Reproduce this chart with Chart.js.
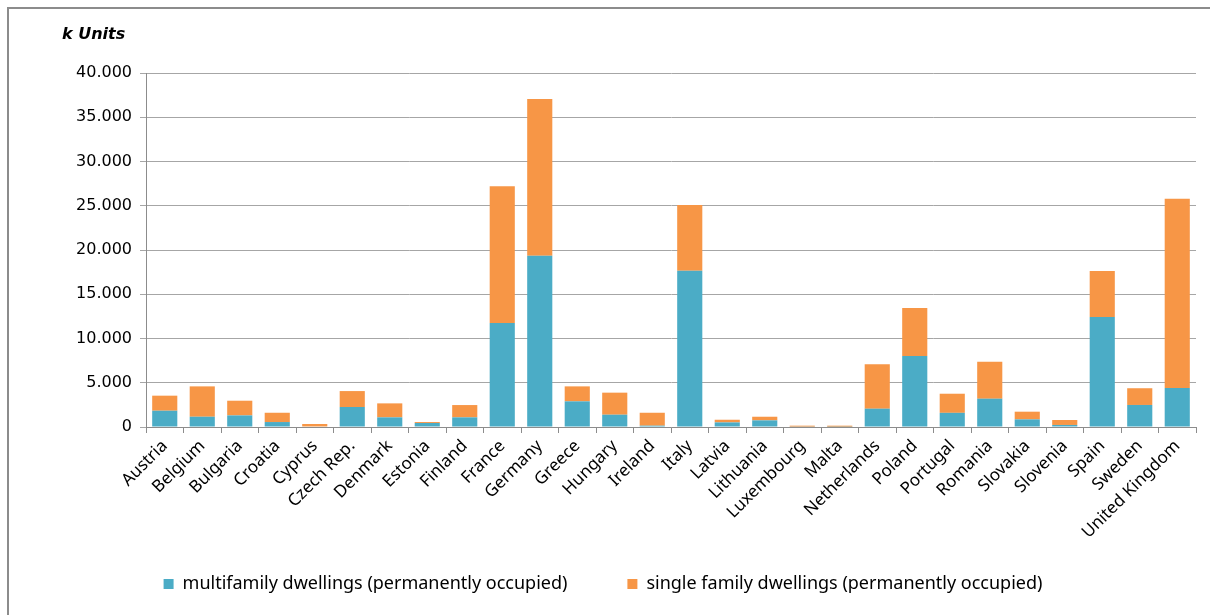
<!DOCTYPE html>
<html>
<head>
<meta charset="utf-8">
<script src="https://cdn.jsdelivr.net/npm/chart.js@4.4.1/dist/chart.umd.min.js"></script>
<style>
  html, body { margin: 0; padding: 0; background: #fff; overflow: hidden; }
  #wrap { width: 1210px; height: 615px; position: relative; }
</style>
</head>
<body>
<div id="wrap"><canvas id="dwellingsChart"></canvas></div>
<script>
const countries = ['Austria', 'Belgium', 'Bulgaria', 'Croatia', 'Cyprus', 'Czech Rep.', 'Denmark', 'Estonia', 'Finland', 'France',
    'Germany', 'Greece', 'Hungary', 'Ireland', 'Italy', 'Latvia', 'Lithuania', 'Luxembourg', 'Malta', 'Netherlands',
    'Poland', 'Portugal', 'Romania', 'Slovakia', 'Slovenia', 'Spain', 'Sweden', 'United Kingdom'];

// k units
const multifamily = [1840, 1160, 1310, 560, 60, 2260, 1090, 450, 1090, 11750,
    19360, 2900, 1390, 150, 17660, 520, 750, 40, 30, 2070,
    8030, 1600, 3200, 860, 230, 12430, 2490, 4400];
const singleFamily = [1700, 3430, 1660, 1050, 280, 1800, 1580, 110, 1390, 15440,
    17700, 1690, 2490, 1460, 7430, 300, 410, 110, 120, 5010,
    5420, 2160, 4180, 870, 560, 5200, 1890, 21400];

const yTicks = [0, 5000, 10000, 15000, 20000, 25000, 30000, 35000, 40000];

const fmt = v => v === 0 ? '0' : String(v).replace(/\B(?=(\d{3})+(?!\d))/g, '.');

// frame (left + top only) and "k Units" caption
const decor = {
    id: 'decor',
    afterLayout(chart) {
        // let the rotated x labels run below the axis box (otherwise clipped)
        chart.scales.x.bottom = chart.height;
    },
    afterDraw(chart) {
        const c = chart.ctx;
        c.save();
        c.strokeStyle = '#8c8c8c';
        c.lineWidth = 2;
        c.beginPath();
        c.moveTo(8, chart.height);
        c.lineTo(8, 8);
        c.lineTo(chart.width, 8);
        c.stroke();
        c.fillStyle = '#000';
        c.font = 'italic bold 16px "DejaVu Sans", sans-serif';
        c.textBaseline = 'middle';
        c.fillText('k Units', 62, 35);
        c.restore();
    }
};

new Chart(document.getElementById('dwellingsChart'), {
    type: 'bar',
    data: {
        labels: countries,
        datasets: [
            {
                label: 'multifamily dwellings (permanently occupied)',
                data: multifamily,
                backgroundColor: '#4BACC6',
                barPercentage: 0.67,
                categoryPercentage: 1
            },
            {
                label: 'single family dwellings (permanently occupied)',
                data: singleFamily,
                backgroundColor: '#F79646',
                barPercentage: 0.67,
                categoryPercentage: 1
            }
        ]
    },
    options: {
        responsive: true,
        maintainAspectRatio: false,
        animation: false,
        layout: {
            padding: { left: 10, right: 14, top: 73, bottom: 12 }
        },
        plugins: {
            tooltip: { enabled: false },
            legend: {
                position: 'bottom',
                labels: {
                    color: '#000',
                    boxWidth: 10,
                    boxHeight: 10,
                    padding: 60,
                    font: { family: '"Noto Sans", sans-serif', size: 18 }
                }
            }
        },
        scales: {
            x: {
                stacked: true,
                afterFit(scale) { scale.height = 88; },
                grid: {
                    offset: true,
                    drawOnChartArea: false,
                    color: '#8c8c8c',
                    tickLength: 6
                },
                border: { color: '#8c8c8c' },
                ticks: {
                    color: '#000',
                    maxRotation: 45,
                    minRotation: 45,
                    autoSkip: false,
                    font: { family: '"Noto Sans", sans-serif', size: 17 }
                }
            },
            y: {
                stacked: true,
                min: 0,
                max: 40000,
                afterFit(scale) { scale.width = 136; },
                afterBuildTicks(scale) { scale.ticks = yTicks.map(v => ({ value: v })); },
                grid: {
                    color: '#a6a6a6',
                    tickLength: 6
                },
                border: { color: '#8c8c8c' },
                ticks: {
                    color: '#000',
                    padding: 8,
                    callback: v => fmt(v),
                    font: { family: '"DejaVu Sans", sans-serif', size: 16 }
                }
            }
        }
    },
    plugins: [decor]
});
</script>
</body>
</html>
